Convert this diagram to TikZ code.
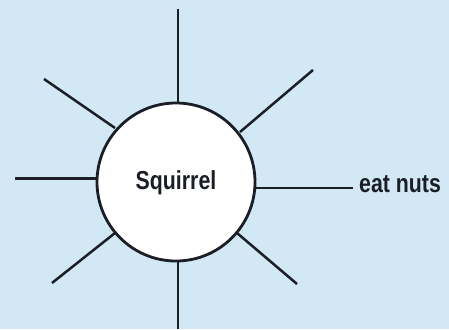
\documentclass[tikz,border=0pt]{standalone}
\usepackage{fontspec}
\setmainfont{Liberation Sans}[FakeStretch=0.82]
\definecolor{bgblue}{RGB}{210,232,244}
\definecolor{ink}{RGB}{26,30,38}
\begin{document}
\begin{tikzpicture}[x=1pt,y=-1pt,
  ray/.style={draw=ink,line width=2.5pt},
  lbl/.style={font=\fontsize{26}{28}\selectfont\bfseries,text=ink,inner sep=0pt}]
\fill[bgblue] (0,0) rectangle (449,329);
\useasboundingbox (0,0) rectangle (449,329);
\node[circle,draw=ink,fill=white,line width=2.8pt,minimum size=158pt,inner sep=0pt] (sq) at (176,182) {};
\node[lbl] (sqt) at (176,183) {Squirrel};
\node[lbl,anchor=west] (nuts) at (359,184) {eat nuts};
\coordinate (t) at (178,9);
\coordinate (b) at (178,329);
\coordinate (l) at (15,178);
\coordinate (ul) at (44,79);
\coordinate (ur) at (313,70);
\coordinate (ll) at (52,283);
\coordinate (lr) at (297,284);
\coordinate (ne) at (353,188);
\draw[ray] (t) -- (178,103);
\draw[ray] (b) -- (178,261);
\draw[ray,line width=3pt] (l) -- (97,178);
\draw[ray] (ul) -- (115,128);
\draw[ray] (ur) -- (240,132);
\draw[ray] (ll) -- (115,233);
\draw[ray] (lr) -- (237,233);
\draw[ray] (255,188) -- (ne);
\end{tikzpicture}
\end{document}
